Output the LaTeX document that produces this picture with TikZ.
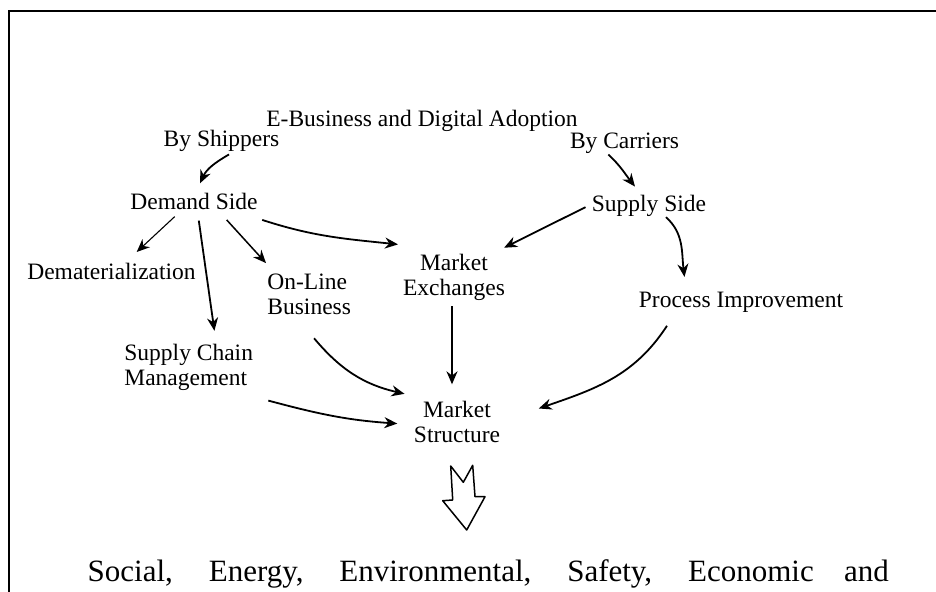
\documentclass[tikz,border=0pt]{standalone}
\usepackage{fontspec}
\setmainfont{Liberation Serif}
\usetikzlibrary{arrows.meta}

\begin{document}
\begin{tikzpicture}[x=0.5pt,y=0.5pt,
            every node/.style={inner sep=0pt,font=\fontsize{11.75}{12.5}\selectfont},
            link/.style={-{Stealth[length=6.5pt,width=5.5pt]},line width=0.9pt}]
    \useasboundingbox (0,0) rectangle (936,-592);
    \draw[line width=1pt] (936,-11) -- (9,-11) -- (9,-592);

    \node[anchor=base](nEBiz) at (422,-127) {E-Business and Digital Adoption};
    \node[anchor=base](nShippers) at (221.5,-147) {By Shippers};
    \node[anchor=base](nCarriers) at (624.5,-149) {By Carriers};
    \node[anchor=base](nDemand) at (194,-210) {Demand Side};
    \node[anchor=base](nSupply) at (649,-212) {Supply Side};
    \node[anchor=base](nDemat) at (111.5,-279.6) {Dematerialization};
    \node[anchor=west,align=left](nOnLine) at (267,-294) {On-Line\\Business};
    \node[align=center](nMktEx) at (454,-277) {Market\\Exchanges};
    \node[anchor=base](nProc) at (741,-308) {Process Improvement};
    \node[anchor=west,align=left](nSCM) at (124,-367.7) {Supply Chain\\Management};
    \node[align=center](nMktSt) at (457,-421.5) {Market\\Structure};

    \begin{scope}[link]
        \draw ([shift={(7.5,-2)}]nShippers.south) to[out=210,in=65] ([shift={(6,10)}]nDemand.north);
        \draw[line width=0.55pt] ([shift={(-19.3,-6)}]nDemand.south) -- ([shift={(25.2,10.9)}]nDemat.north);
        \draw ([shift={(4.8,-10)}]nDemand.south) -- ([shift={(25.7,13.3)}]nSCM.north);
        \draw[line width=0.75pt] ([shift={(32.7,-9.3)}]nDemand.south) -- ([shift={(-1,10.1)}]nOnLine.north west);
        \draw ([shift={(4.2,-9.3)}]nDemand.south east) to[out=-18,in=174] ([shift={(-4.7,9)}]nMktEx.north west);
        \draw ([shift={(-16.2,0)}]nCarriers.south) to[out=-43,in=128] ([shift={(-14,8.7)}]nSupply.north);
        \draw ([shift={(-6,-0.8)}]nSupply.west) -- ([shift={(-1.2,5.7)}]nMktEx.north east);
        \draw ([shift={(17,0.3)}]nSupply.south) to[out=-42,in=97] ([shift={(46,15.3)}]nProc.north west);
        \draw ([shift={(-2,-5.8)}]nMktEx.south) -- ([shift={(-5,16)}]nMktSt.north);
        \draw ([shift={(4.9,-23.5)}]nOnLine.south) to[out=-50,in=167] ([shift={(-9,6.5)}]nMktSt.north west);
        \draw ([shift={(14.9,-9.3)}]nSCM.south east) to[out=-15,in=176] ([shift={(-16.2,-2.1)}]nMktSt.west);
        \draw ([shift={(28.5,-12.4)}]nProc.south west) to[out=237,in=19] ([shift={(38.3,13)}]nMktSt.east);
    \end{scope}

    % hollow arrow down to the effects
    \draw[line width=0.75pt,line join=round] (450.7,-466) -- (463.3,-482.3) -- (472.7,-465.3) -- (475,-496.7)
        -- (485,-496.7) -- (466.7,-530) -- (442.7,-500.7) -- (452.7,-500) -- cycle;

    \node[anchor=base west,font=\fontsize{15.5}{18}\selectfont](nEffects) at (87.3,-581)
        {\makebox[400.5pt][s]{Social, Energy, Environmental, Safety, Economic and}};
\end{tikzpicture}
\end{document}
